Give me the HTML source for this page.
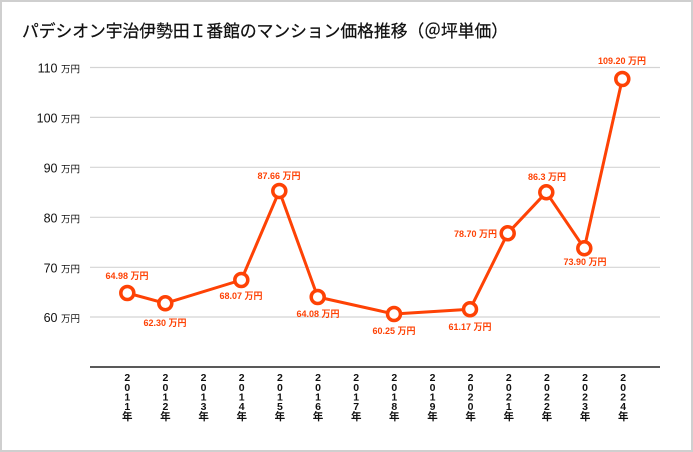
<!DOCTYPE html>
<html><head><meta charset="utf-8"><style>
html,body{margin:0;padding:0;background:#fff;}
svg{display:block;}
</style></head><body>
<svg width="693" height="452" viewBox="0 0 693 452" xmlns="http://www.w3.org/2000/svg">
<rect x="0" y="0" width="693" height="452" fill="#cfcfcf"/>
<rect x="2" y="2" width="689" height="448" fill="#fff"/>
<text x="22" y="37" font-family="'Liberation Sans','Noto Sans CJK JP',sans-serif" font-size="17" fill="#111" stroke="#111" stroke-width="0.25" textLength="486" lengthAdjust="spacingAndGlyphs">パデシオン宇治伊勢田Ｉ番館のマンション価格推移（＠坪単価）</text>
<g stroke="#d4d4d4" stroke-width="1.2">
<line x1="90" y1="67.5" x2="660" y2="67.5"/>
<line x1="90" y1="117.4" x2="660" y2="117.4"/>
<line x1="90" y1="167.3" x2="660" y2="167.3"/>
<line x1="90" y1="217.3" x2="660" y2="217.3"/>
<line x1="90" y1="267.3" x2="660" y2="267.3"/>
<line x1="90" y1="317" x2="660" y2="317"/>
</g>
<line x1="90" y1="367" x2="660" y2="367" stroke="#222" stroke-width="1.5"/>
<g font-family="'Liberation Sans','Noto Sans CJK JP',sans-serif" fill="#111" text-anchor="end">
<text x="80" y="72.5"><tspan font-size="12.5">110 </tspan><tspan font-size="9.5">万円</tspan></text>
<text x="80" y="122.4"><tspan font-size="12.5">100 </tspan><tspan font-size="9.5">万円</tspan></text>
<text x="80" y="172.3"><tspan font-size="12.5">90 </tspan><tspan font-size="9.5">万円</tspan></text>
<text x="80" y="222.3"><tspan font-size="12.5">80 </tspan><tspan font-size="9.5">万円</tspan></text>
<text x="80" y="272.3"><tspan font-size="12.5">70 </tspan><tspan font-size="9.5">万円</tspan></text>
<text x="80" y="322"><tspan font-size="12.5">60 </tspan><tspan font-size="9.5">万円</tspan></text>
</g>
<g font-family="'Liberation Sans','Noto Sans CJK JP',sans-serif" font-weight="bold" font-size="10.5" fill="#111" text-anchor="middle">
<text><tspan x="127.3" y="381">2</tspan><tspan x="127.3" y="391">0</tspan><tspan x="127.3" y="400.5">1</tspan><tspan x="127.3" y="410">1</tspan><tspan x="127.3" y="420">年</tspan></text>
<text><tspan x="165.4" y="381">2</tspan><tspan x="165.4" y="391">0</tspan><tspan x="165.4" y="400.5">1</tspan><tspan x="165.4" y="410">2</tspan><tspan x="165.4" y="420">年</tspan></text>
<text><tspan x="203.6" y="381">2</tspan><tspan x="203.6" y="391">0</tspan><tspan x="203.6" y="400.5">1</tspan><tspan x="203.6" y="410">3</tspan><tspan x="203.6" y="420">年</tspan></text>
<text><tspan x="241.7" y="381">2</tspan><tspan x="241.7" y="391">0</tspan><tspan x="241.7" y="400.5">1</tspan><tspan x="241.7" y="410">4</tspan><tspan x="241.7" y="420">年</tspan></text>
<text><tspan x="279.9" y="381">2</tspan><tspan x="279.9" y="391">0</tspan><tspan x="279.9" y="400.5">1</tspan><tspan x="279.9" y="410">5</tspan><tspan x="279.9" y="420">年</tspan></text>
<text><tspan x="318" y="381">2</tspan><tspan x="318" y="391">0</tspan><tspan x="318" y="400.5">1</tspan><tspan x="318" y="410">6</tspan><tspan x="318" y="420">年</tspan></text>
<text><tspan x="356.2" y="381">2</tspan><tspan x="356.2" y="391">0</tspan><tspan x="356.2" y="400.5">1</tspan><tspan x="356.2" y="410">7</tspan><tspan x="356.2" y="420">年</tspan></text>
<text><tspan x="394.3" y="381">2</tspan><tspan x="394.3" y="391">0</tspan><tspan x="394.3" y="400.5">1</tspan><tspan x="394.3" y="410">8</tspan><tspan x="394.3" y="420">年</tspan></text>
<text><tspan x="432.5" y="381">2</tspan><tspan x="432.5" y="391">0</tspan><tspan x="432.5" y="400.5">1</tspan><tspan x="432.5" y="410">9</tspan><tspan x="432.5" y="420">年</tspan></text>
<text><tspan x="470.6" y="381">2</tspan><tspan x="470.6" y="391">0</tspan><tspan x="470.6" y="400.5">2</tspan><tspan x="470.6" y="410">0</tspan><tspan x="470.6" y="420">年</tspan></text>
<text><tspan x="508.8" y="381">2</tspan><tspan x="508.8" y="391">0</tspan><tspan x="508.8" y="400.5">2</tspan><tspan x="508.8" y="410">1</tspan><tspan x="508.8" y="420">年</tspan></text>
<text><tspan x="546.9" y="381">2</tspan><tspan x="546.9" y="391">0</tspan><tspan x="546.9" y="400.5">2</tspan><tspan x="546.9" y="410">2</tspan><tspan x="546.9" y="420">年</tspan></text>
<text><tspan x="585.1" y="381">2</tspan><tspan x="585.1" y="391">0</tspan><tspan x="585.1" y="400.5">2</tspan><tspan x="585.1" y="410">3</tspan><tspan x="585.1" y="420">年</tspan></text>
<text><tspan x="623.2" y="381">2</tspan><tspan x="623.2" y="391">0</tspan><tspan x="623.2" y="400.5">2</tspan><tspan x="623.2" y="410">4</tspan><tspan x="623.2" y="420">年</tspan></text>
</g>
<polyline fill="none" stroke="#fe4205" stroke-width="3" stroke-linejoin="round" points="127.3,293 165.3,303.3 241.3,280 279.3,191 317.7,297 394,314 470,309.3 507.7,233.3 546.3,192.3 584.3,248.3 622.3,79"/>
<g fill="#fff" stroke="#fe4205" stroke-width="3.5">
<circle cx="127.3" cy="293" r="6.5"/>
<circle cx="165.3" cy="303.3" r="6.5"/>
<circle cx="241.3" cy="280" r="6.5"/>
<circle cx="279.3" cy="191" r="6.5"/>
<circle cx="317.7" cy="297" r="6.5"/>
<circle cx="394" cy="314" r="6.5"/>
<circle cx="470" cy="309.3" r="6.5"/>
<circle cx="507.7" cy="233.3" r="6.5"/>
<circle cx="546.3" cy="192.3" r="6.5"/>
<circle cx="584.3" cy="248.3" r="6.5"/>
<circle cx="622.3" cy="79" r="6.5"/>
</g>
<g font-family="'Liberation Sans','Noto Sans CJK JP',sans-serif" font-weight="bold" font-size="9" fill="#fe4205" text-anchor="middle">
<text x="127" y="279">64.98 万円</text>
<text x="165" y="326">62.30 万円</text>
<text x="241" y="299">68.07 万円</text>
<text x="279" y="179">87.66 万円</text>
<text x="318" y="317">64.08 万円</text>
<text x="394" y="334">60.25 万円</text>
<text x="470" y="330">61.17 万円</text>
<text x="497" y="237" text-anchor="end">78.70 万円</text>
<text x="547" y="180">86.3 万円</text>
<text x="585" y="265">73.90 万円</text>
<text x="622" y="64">109.20 万円</text>
</g>
</svg>
</body></html>
